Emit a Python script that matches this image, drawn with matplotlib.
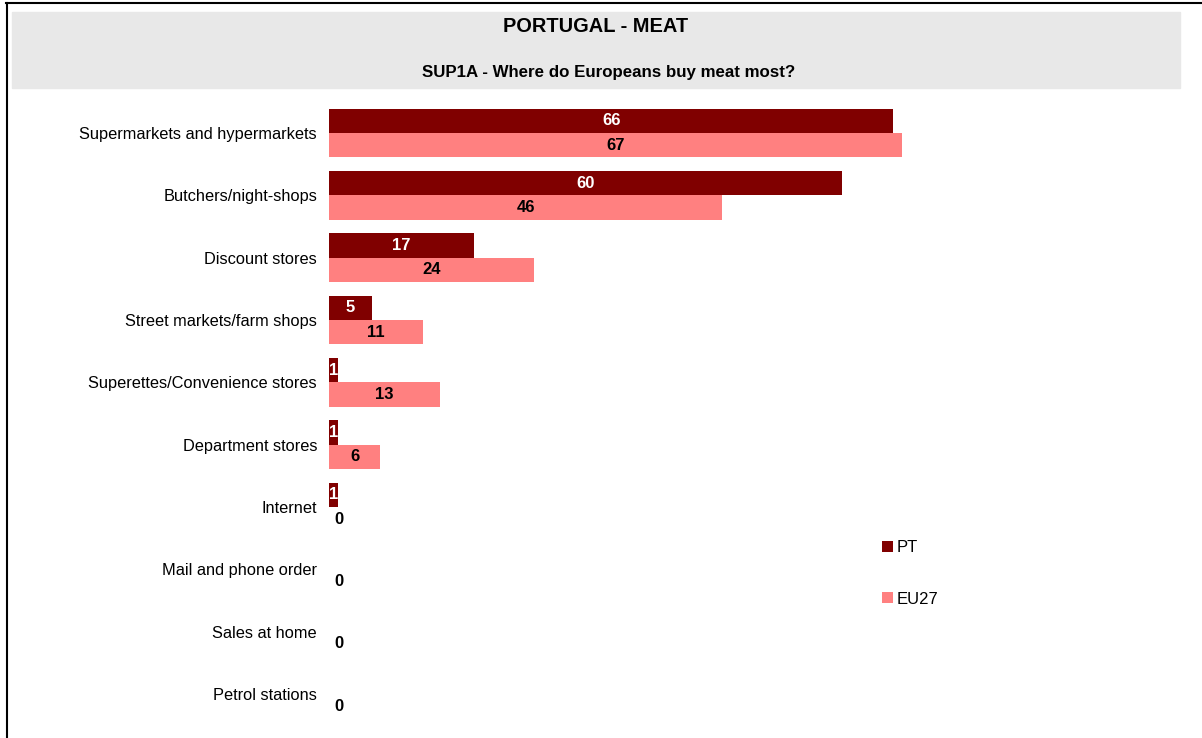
import numpy as np
import matplotlib.pyplot as plt
from matplotlib.patches import Rectangle
from matplotlib.lines import Line2D

plt.rcParams['font.family'] = ['Liberation Sans', 'DejaVu Sans']

categories = ["Supermarkets and hypermarkets", "Butchers/night-shops", "Discount stores",
              "Street markets/farm shops", "Superettes/Convenience stores", "Department stores",
              "Internet", "Mail and phone order", "Sales at home", "Petrol stations"]
pt = [66, 60, 17, 5, 1, 1, 1, 0, 0, 0]
eu27 = [67, 46, 24, 11, 13, 6, 0, 0, 0, 0]

W, H = 1202, 738
fig = plt.figure(figsize=(W / 100, H / 100), dpi=100)

# frame and title box
fig.add_artist(Line2D([6 / W, 1], [1 - 3 / H, 1 - 3 / H], color='black', lw=1.5))
fig.add_artist(Line2D([7 / W, 7 / W], [0, 1 - 3 / H], color='black', lw=1.5))
fig.add_artist(Rectangle((12 / W, 1 - 88 / H), (1180 - 12) / W, 76 / H,
                         color='#e8e8e8', transform=fig.transFigure, zorder=0))
fig.text(596 / W, 1 - 27 / H, "PORTUGAL - MEAT", ha='center', va='center',
         fontsize=14.4, fontweight='bold')
fig.text(609 / W, 1 - 73 / H, "SUP1A - Where do Europeans buy meat most?", ha='center',
         va='center', fontsize=12.2, fontweight='bold')

top, bot = 101.8, 725.3
ax = fig.add_axes([329 / W, 1 - bot / H, 855 / W, (bot - top) / H])
y = np.arange(len(categories))
h = 0.39
ax.barh(y - h / 2, pt, height=h, color='#800000', label='PT')
ax.barh(y + h / 2, eu27, height=h, color='#ff8080', label='EU27')

for i in range(len(categories)):
    xp = pt[i] / 2 if pt[i] > 0 else 1.2
    ax.text(xp, y[i] - h / 2, str(pt[i]), ha='center', va='center', color='white',
            fontsize=12, fontweight='bold')
    xe = eu27[i] / 2 if eu27[i] > 0 else 1.2
    ax.text(xe, y[i] + h / 2, str(eu27[i]), ha='center', va='center', color='black',
            fontsize=12, fontweight='bold')

ax.set_xlim(0, 100)
ax.set_ylim(len(categories) - 0.5, -0.5)
ax.set_yticks(y)
ax.set_yticklabels(categories, fontsize=11.8)
ax.tick_params(axis='y', length=0, pad=8.6)
ax.set_xticks([])
for s in ax.spines.values():
    s.set_visible(False)

ax.legend(loc='upper left', bbox_to_anchor=(867 / W, 1 - 525 / H),
          bbox_transform=fig.transFigure, frameon=False, fontsize=12,
          handlelength=0.65, handleheight=0.65, handletextpad=0.25, labelspacing=2.2)

fig.savefig('out.png', dpi=100)
